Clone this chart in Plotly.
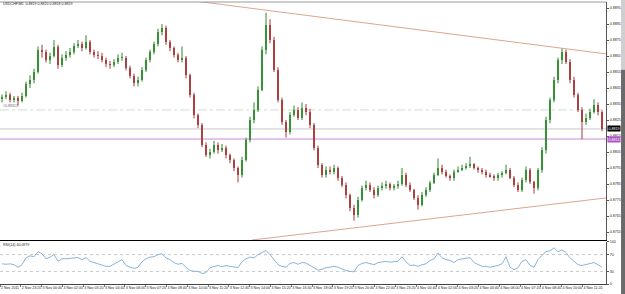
import plotly.graph_objects as go

# ---------------- data ----------------
closes = [
    0.88394, 0.88406, 0.88375, 0.88388, 0.88369, 0.88400, 0.88475, 0.88500, 0.88550, 0.88688,
    0.88675, 0.88625, 0.88650, 0.88706, 0.88594, 0.88638, 0.88656, 0.88675, 0.88713, 0.88725,
    0.88700, 0.88738, 0.88675, 0.88656, 0.88650, 0.88625, 0.88600, 0.88594, 0.88613, 0.88638,
    0.88638, 0.88575, 0.88525, 0.88481, 0.88500, 0.88563, 0.88625, 0.88675, 0.88725, 0.88800,
    0.88825, 0.88738, 0.88700, 0.88656, 0.88625, 0.88638, 0.88531, 0.88406, 0.88281, 0.88219,
    0.88094, 0.88031, 0.88050, 0.88094, 0.88063, 0.88075, 0.88031, 0.88000, 0.87950, 0.87906,
    0.88000, 0.88125, 0.88250, 0.88313, 0.88438, 0.88688, 0.88844, 0.88750, 0.88563, 0.88375,
    0.88238, 0.88175, 0.88281, 0.88313, 0.88263, 0.88325, 0.88300, 0.88219, 0.88075, 0.87969,
    0.87906, 0.87938, 0.87925, 0.87950, 0.87888, 0.87844, 0.87781, 0.87700, 0.87656, 0.87750,
    0.87825, 0.87844, 0.87813, 0.87781, 0.87825, 0.87838, 0.87850, 0.87825, 0.87838, 0.87850,
    0.87906, 0.87844, 0.87813, 0.87763, 0.87719, 0.87781, 0.87813, 0.87856, 0.87906, 0.87950,
    0.87925, 0.87900, 0.87888, 0.87925, 0.87938, 0.87950, 0.87963, 0.87975, 0.87950, 0.87938,
    0.87925, 0.87906, 0.87900, 0.87888, 0.87906, 0.87919, 0.87938, 0.87888, 0.87844, 0.87813,
    0.87875, 0.87938, 0.87863, 0.87825, 0.87938, 0.88063, 0.88250, 0.88375, 0.88500, 0.88625,
    0.88675, 0.88613, 0.88500, 0.88406, 0.88313, 0.88238, 0.88263, 0.88300, 0.88344, 0.88300,
    0.88194,
]
first_open = 0.88380
highs = [
    0.8841, 0.8843, 0.8842, 0.8840, 0.8840, 0.8842, 0.8849, 0.8853, 0.8857, 0.8871,
    0.8872, 0.8869, 0.8867, 0.8875, 0.8872, 0.8866, 0.8868, 0.8870, 0.8873, 0.8875,
    0.8874, 0.8878, 0.8875, 0.8869, 0.8868, 0.8867, 0.8864, 0.8862, 0.8863, 0.8866,
    0.8867, 0.8865, 0.8859, 0.8854, 0.8852, 0.8858, 0.8864, 0.8869, 0.8874, 0.8882,
    0.8885, 0.8884, 0.8875, 0.8871, 0.8867, 0.8871, 0.8865, 0.8854, 0.8842, 0.8829,
    0.8823, 0.8811, 0.8807, 0.8812, 0.8811, 0.8810, 0.8809, 0.8804, 0.8801, 0.8796,
    0.8802, 0.8814, 0.8827, 0.8836, 0.8846, 0.8871, 0.8892, 0.8888, 0.8877, 0.8858,
    0.8839, 0.8825, 0.8830, 0.8834, 0.8833, 0.8836, 0.8835, 0.8832, 0.8823, 0.8809,
    0.8798, 0.8796, 0.8796, 0.8797, 0.8796, 0.8790, 0.8786, 0.8779, 0.8772, 0.8777,
    0.8784, 0.8787, 0.8786, 0.8783, 0.8784, 0.8786, 0.8787, 0.8786, 0.8785, 0.8787,
    0.8795, 0.8792, 0.8786, 0.8782, 0.8778, 0.8780, 0.8783, 0.8787, 0.8792, 0.8801,
    0.8797, 0.8794, 0.8791, 0.8794, 0.8796, 0.8797, 0.8798, 0.8802, 0.8798, 0.8796,
    0.8795, 0.8794, 0.8792, 0.8791, 0.8792, 0.8793, 0.8797, 0.8795, 0.8790, 0.8786,
    0.8789, 0.8796, 0.8795, 0.8787, 0.8795, 0.8808, 0.8827, 0.8839, 0.8852, 0.8864,
    0.8870, 0.8869, 0.8863, 0.8852, 0.8842, 0.8833, 0.8829, 0.8832, 0.8838, 0.8836,
    0.8831,
]
lows = [
    0.8836, 0.8838, 0.8836, 0.8836, 0.8834, 0.8836, 0.8839, 0.8845, 0.8848, 0.8854,
    0.8864, 0.8861, 0.8860, 0.8864, 0.8857, 0.8858, 0.8862, 0.8864, 0.8866, 0.8870,
    0.8868, 0.8869, 0.8866, 0.8864, 0.8863, 0.8861, 0.8858, 0.8857, 0.8858, 0.8860,
    0.8862, 0.8856, 0.8851, 0.8846, 0.8846, 0.8849, 0.8855, 0.8861, 0.8866, 0.8871,
    0.8878, 0.8872, 0.8868, 0.8864, 0.8861, 0.8861, 0.8851, 0.8839, 0.8826, 0.8820,
    0.8808, 0.8802, 0.8801, 0.8804, 0.8804, 0.8805, 0.8801, 0.8798, 0.8793, 0.8786,
    0.8789, 0.8799, 0.8811, 0.8823, 0.8830, 0.8843, 0.8866, 0.8873, 0.8855, 0.8836,
    0.8822, 0.8814, 0.8816, 0.8827, 0.8825, 0.8825, 0.8828, 0.8820, 0.8806, 0.8795,
    0.8789, 0.8789, 0.8791, 0.8791, 0.8787, 0.8783, 0.8776, 0.8768, 0.8762, 0.8764,
    0.8774, 0.8781, 0.8780, 0.8776, 0.8777, 0.8781, 0.8782, 0.8781, 0.8781, 0.8782,
    0.8784, 0.8783, 0.8780, 0.8775, 0.8769, 0.8771, 0.8777, 0.8780, 0.8785, 0.8790,
    0.8791, 0.8789, 0.8787, 0.8787, 0.8792, 0.8793, 0.8794, 0.8795, 0.8794, 0.8792,
    0.8791, 0.8789, 0.8789, 0.8787, 0.8787, 0.8789, 0.8791, 0.8788, 0.8783, 0.8780,
    0.8780, 0.8786, 0.8785, 0.8779, 0.8781, 0.8792, 0.8804, 0.8823, 0.8836, 0.8848,
    0.8860, 0.8860, 0.8848, 0.8839, 0.8830, 0.8813, 0.8822, 0.8825, 0.8829, 0.8828,
    0.8818,
]
opens = [first_open] + closes[:-1]

rsi = [
    48, 47, 48, 46, 40, 46, 62, 67, 65, 77,
    72, 60, 64, 70, 54, 60, 60, 61, 62, 63,
    58, 63, 54, 51, 49, 45, 42, 42, 47, 53,
    58, 44, 40, 37, 40, 53, 60, 64, 65, 70,
    72, 62, 58, 51, 47, 49, 40, 32, 30, 30,
    25, 27, 39, 42, 44, 41, 44, 42, 40, 39,
    53, 60, 64, 62, 70, 75, 80, 70, 58, 46,
    42, 40, 49, 51, 47, 51, 50, 44, 39, 33,
    35, 39, 40, 42, 40, 35, 32, 30, 29, 44,
    49, 51, 49, 46, 51, 53, 54, 52, 53, 54,
    65, 53, 44, 45, 42, 46, 48, 56, 60, 74,
    62, 58, 56, 51, 58, 60, 61, 63, 51, 47,
    42, 42, 40, 42, 44, 48, 65, 40, 34, 39,
    54, 58, 44, 40, 58, 68, 77, 79, 86, 77,
    81, 75, 62, 54, 46, 44, 46, 49, 51, 46,
    40,
]
bars = list(range(len(closes)))

price_ticks = [0.8895, 0.8885, 0.8875, 0.8865, 0.8855, 0.8845, 0.8835, 0.8825,
               0.8815, 0.8805, 0.8795, 0.8785, 0.8775, 0.8765, 0.8755]
price_tick_text = ["0.8895", "0.8885", "0.8875", "0.8865", "0.8855", "0.8845", "0.8835",
                   "0.8825", "0.8815", "0.8805", "0.8795", "0.8785", "0.8775", "0.8765",
                   "0.8755"]
rsi_ticks = [100, 70, 30, 0]
rsi_tick_text = ["100", "70", "30", "0"]
rsi_levels = [70, 30]

time_labels = ["2 Nov 2011", "2 Nov 23:20", "3 Nov 00:40", "3 Nov 02:00", "3 Nov 03:20",
               "3 Nov 04:40", "3 Nov 06:00", "3 Nov 07:20", "3 Nov 08:40", "3 Nov 10:00",
               "3 Nov 11:20", "3 Nov 12:40", "3 Nov 14:00", "3 Nov 15:20", "3 Nov 16:40",
               "3 Nov 18:00", "3 Nov 19:20", "3 Nov 20:40", "3 Nov 22:00", "3 Nov 23:20",
               "4 Nov 00:40", "4 Nov 02:00", "4 Nov 03:20", "4 Nov 04:40", "4 Nov 06:00",
               "4 Nov 07:20", "4 Nov 08:40", "4 Nov 10:00", "4 Nov 11:20"]
BARS_PER_LABEL = 5.2
time_tick_pos = [k * BARS_PER_LABEL - 0.5 for k in range(len(time_labels))]

# trend lines: (bar index, price) anchor pairs
upper_trend_bars = [46.25, 151.0]
upper_trend_prices = [0.89000, 0.88663]
lower_trend_bars = [62.5, 151.0]
lower_trend_prices = [0.87500, 0.87763]

order_level = 0.88313     # dash-dot line
bid_level = 0.88194       # current price line
purple_level = 0.88131    # horizontal line

symbol_text = "USDCHF,M5  0.8819 0.8820 0.8818 0.8819"
rsi_text = "RSI(14) 40.0979"
order_text = "#0.88313"

# ---------------- styling ----------------
UP_LINE, UP_FILL = "#2f8a2f", "#3d9a3d"
DN_LINE, DN_FILL = "#a33a3a", "#b24848"
TREND = "#dea48e"
FONT = "Liberation Sans"
FS = 3.6
BODY_W = 0.5

# ---------------- figure ----------------
is_up = [c >= o for o, c in zip(opens, closes)]
body_base = [min(o, c) for o, c in zip(opens, closes)]
body_len = [max(abs(c - o), 0.00002) for o, c in zip(opens, closes)]
body_col = [UP_FILL if u else DN_FILL for u in is_up]


def wick_xy(up_flag):
    xs, ys = [], []
    for i, u in enumerate(is_up):
        if u == up_flag:
            xs += [bars[i], bars[i], None]
            ys += [lows[i], highs[i], None]
    return xs, ys


fig = go.Figure()
for flag, col in ((True, UP_LINE), (False, DN_LINE)):
    wx, wy = wick_xy(flag)
    fig.add_trace(go.Scatter(x=wx, y=wy, mode="lines", line=dict(color=col, width=1),
                             xaxis="x", yaxis="y", showlegend=False, hoverinfo="skip",
                             connectgaps=False))
fig.add_trace(go.Bar(x=bars, y=body_len, base=body_base, width=BODY_W,
                     marker=dict(color=body_col, line=dict(width=0)),
                     xaxis="x", yaxis="y", showlegend=False, hoverinfo="skip"))
fig.add_trace(go.Scatter(x=upper_trend_bars, y=upper_trend_prices, mode="lines",
                         line=dict(color=TREND, width=1), xaxis="x", yaxis="y",
                         showlegend=False, hoverinfo="skip"))
fig.add_trace(go.Scatter(x=lower_trend_bars, y=lower_trend_prices, mode="lines",
                         line=dict(color=TREND, width=1), xaxis="x", yaxis="y",
                         showlegend=False, hoverinfo="skip"))
fig.add_trace(go.Scatter(x=bars, y=rsi, mode="lines", line=dict(color="#8db4d8", width=1),
                         xaxis="x2", yaxis="y2", showlegend=False, hoverinfo="skip"))

MAIN_DOM = [0.156, 1.0]
RSI_DOM = [0.0, 0.149]
XR = [-0.5, 151.0]

shapes = [
    dict(type="line", xref="paper", yref="y", x0=0, x1=1, y0=order_level, y1=order_level,
         line=dict(color="#c6d6c2", width=0.8, dash="dashdot"), layer="below"),
    dict(type="line", xref="paper", yref="y", x0=0, x1=1, y0=bid_level, y1=bid_level,
         line=dict(color="#c8c8c8", width=1), layer="below"),
    dict(type="line", xref="paper", yref="y", x0=0, x1=1, y0=purple_level, y1=purple_level,
         line=dict(color="#cf86dc", width=1), layer="below"),
    dict(type="line", xref="paper", yref="paper", x0=0, x1=1, y0=1, y1=1,
         line=dict(color="#9a9a9a", width=1)),
    dict(type="rect", xref="paper", yref="paper", x0=1.0248, x1=1.04, y0=0.76, y1=1.02,
         fillcolor="#cfcfcf", line=dict(width=0), layer="above"),
    dict(type="rect", xref="paper", yref="paper", x0=1.0248, x1=1.04, y0=-0.05, y1=0.76,
         fillcolor="#6a6a6a", line=dict(width=0), layer="above"),
]
for lv in rsi_levels:
    shapes.append(dict(type="line", xref="paper", yref="y2", x0=0, x1=1, y0=lv, y1=lv,
                       line=dict(color="#c8c8c8", width=1, dash="dot"), layer="below"))

annotations = [
    dict(xref="paper", yref="paper", x=0.002, y=0.993, text=symbol_text, showarrow=False,
         xanchor="left", yanchor="middle", font=dict(size=FS, color="#222", family=FONT)),
    dict(xref="paper", yref="paper", x=0.002, y=0.138, text=rsi_text, showarrow=False,
         xanchor="left", yanchor="middle", font=dict(size=FS, color="#222", family=FONT)),
    dict(xref="paper", yref="y", x=0.002, y=order_level, text=order_text, showarrow=False,
         xanchor="left", yanchor="bottom", font=dict(size=FS, color="#666", family=FONT)),
    dict(xref="paper", yref="y", x=1.002, y=bid_level, text="0.8819", showarrow=False,
         xanchor="left", yanchor="middle", bgcolor="#000", borderpad=0.6,
         font=dict(size=FS, color="#fff", family=FONT)),
    dict(xref="paper", yref="y", x=1.002, y=purple_level, text="0.8813", showarrow=False,
         xanchor="left", yanchor="middle", bgcolor="#b24fc4", borderpad=0.6,
         font=dict(size=FS, color="#fff", family=FONT)),
]

fig.update_layout(
    width=625, height=294,
    margin=dict(l=0, r=19, t=2, b=10),
    paper_bgcolor="white", plot_bgcolor="white",
    showlegend=False, bargap=0,
    font=dict(family=FONT, size=FS, color="#222"),
    xaxis=dict(domain=[0, 1], range=XR, anchor="y", showticklabels=False, showgrid=False,
               zeroline=False, showline=True, linecolor="#000", linewidth=1, ticks=""),
    xaxis2=dict(domain=[0, 1], range=XR, anchor="y2", matches="x", showgrid=False,
                zeroline=False, showline=True, linecolor="#444", linewidth=1,
                tickmode="array", tickvals=time_tick_pos, ticktext=time_labels,
                ticks="outside", ticklen=2, tickcolor="#777", tickangle=0,
                ticklabelposition="outside right",
                tickfont=dict(size=FS, color="#222", family=FONT), automargin=False),
    yaxis=dict(domain=MAIN_DOM, range=[0.8750, 0.889875], anchor="x", side="right",
               tickmode="array", tickvals=price_ticks, ticktext=price_tick_text,
               ticks="outside", ticklen=2, tickcolor="#555",
               tickfont=dict(size=FS, color="#222", family=FONT),
               showline=True, linecolor="#555", linewidth=1, showgrid=False,
               zeroline=False, automargin=False),
    yaxis2=dict(domain=RSI_DOM, range=[0, 100], anchor="x2", side="right",
                tickmode="array", tickvals=rsi_ticks, ticktext=rsi_tick_text,
                ticks="outside", ticklen=2, tickcolor="#555",
                tickfont=dict(size=FS, color="#222", family=FONT),
                showline=True, linecolor="#555", linewidth=1, showgrid=False,
                zeroline=False, automargin=False),
    shapes=shapes,
    annotations=annotations,
)

fig.write_html("out.html")
